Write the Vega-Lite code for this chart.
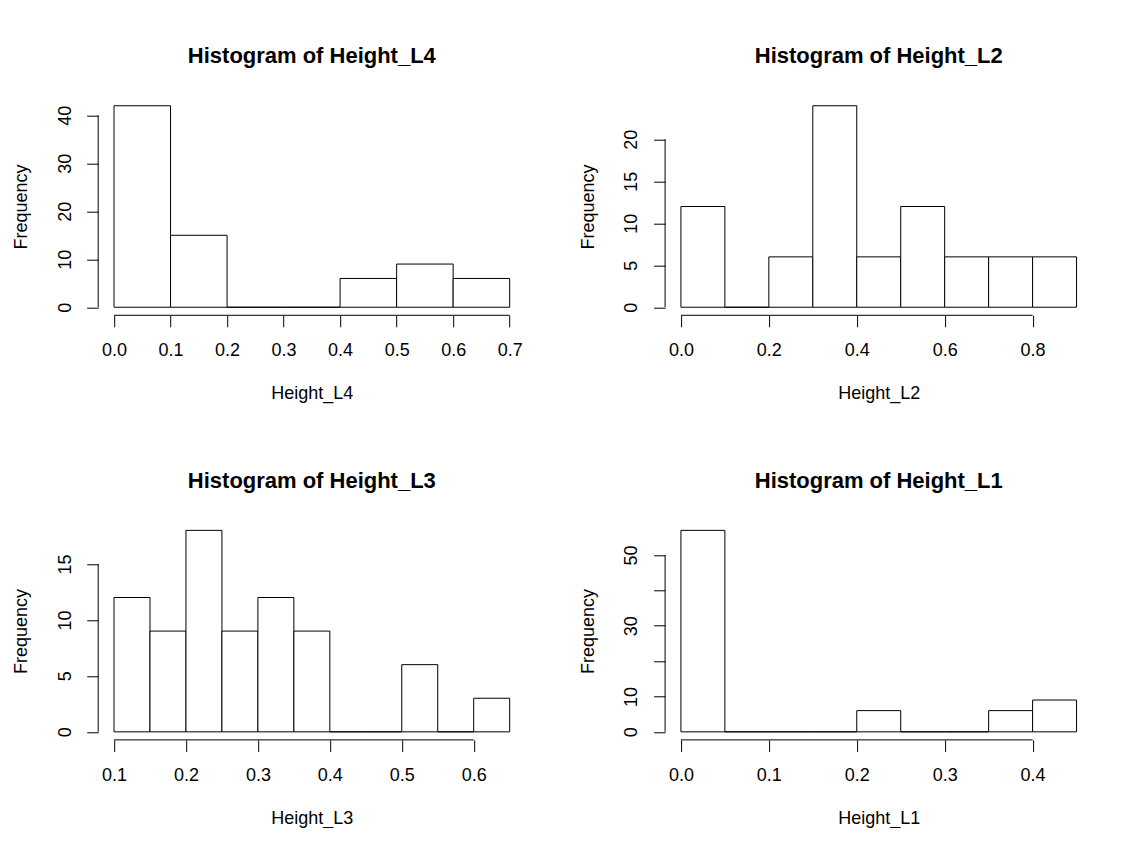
{
  "$schema": "https://vega.github.io/schema/vega-lite/v6.json",
  "background": "white",
  "padding": {"left": 11.2, "top": 44.7, "right": 0, "bottom": 0},
  "datasets": {
    "L4": [
      {"start": 0.0, "end": 0.1, "count": 42},
      {"start": 0.1, "end": 0.2, "count": 15},
      {"start": 0.2, "end": 0.3, "count": 0},
      {"start": 0.3, "end": 0.4, "count": 0},
      {"start": 0.4, "end": 0.5, "count": 6},
      {"start": 0.5, "end": 0.6, "count": 9},
      {"start": 0.6, "end": 0.7, "count": 6}
    ],
    "L2": [
      {"start": 0.0, "end": 0.1, "count": 12},
      {"start": 0.1, "end": 0.2, "count": 0},
      {"start": 0.2, "end": 0.3, "count": 6},
      {"start": 0.3, "end": 0.4, "count": 24},
      {"start": 0.4, "end": 0.5, "count": 6},
      {"start": 0.5, "end": 0.6, "count": 12},
      {"start": 0.6, "end": 0.7, "count": 6},
      {"start": 0.7, "end": 0.8, "count": 6},
      {"start": 0.8, "end": 0.9, "count": 6}
    ],
    "L3": [
      {"start": 0.10, "end": 0.15, "count": 12},
      {"start": 0.15, "end": 0.20, "count": 9},
      {"start": 0.20, "end": 0.25, "count": 18},
      {"start": 0.25, "end": 0.30, "count": 9},
      {"start": 0.30, "end": 0.35, "count": 12},
      {"start": 0.35, "end": 0.40, "count": 9},
      {"start": 0.40, "end": 0.45, "count": 0},
      {"start": 0.45, "end": 0.50, "count": 0},
      {"start": 0.50, "end": 0.55, "count": 6},
      {"start": 0.55, "end": 0.60, "count": 0},
      {"start": 0.60, "end": 0.65, "count": 3}
    ],
    "L1": [
      {"start": 0.00, "end": 0.05, "count": 57},
      {"start": 0.05, "end": 0.10, "count": 0},
      {"start": 0.10, "end": 0.15, "count": 0},
      {"start": 0.15, "end": 0.20, "count": 0},
      {"start": 0.20, "end": 0.25, "count": 6},
      {"start": 0.25, "end": 0.30, "count": 0},
      {"start": 0.30, "end": 0.35, "count": 0},
      {"start": 0.35, "end": 0.40, "count": 6},
      {"start": 0.40, "end": 0.45, "count": 9}
    ]
  },
  "columns": 2,
  "spacing": {"row": 66.6, "column": 51.9},
  "concat": [
    {
      "width": 427.3, "height": 217.6,
      "title": "Histogram of Height_L4",
      "data": {"name": "L4"},
      "layer": [
        {
          "mark": {"type": "rect", "fill": "white", "stroke": "black", "strokeWidth": 1},
          "encoding": {
            "x": {"field": "start", "type": "quantitative", "scale": {"domain": [-0.028, 0.728], "nice": false, "zero": false}, "axis": {"values": [0, 0.1, 0.2, 0.3, 0.4, 0.5, 0.6, 0.7], "format": ".1f", "title": "Height_L4"}},
            "x2": {"field": "end"},
            "y": {"field": "count", "type": "quantitative", "scale": {"domain": [-1.68, 43.68], "nice": false, "zero": false}, "axis": {"values": [0, 10, 20, 30, 40], "title": "Frequency"}},
            "y2": {"datum": 0}
          }
        },
        {
          "data": {"values": [{}]},
          "mark": {"type": "rule", "color": "black", "strokeWidth": 1},
          "encoding": {"x": {"datum": 0, "type": "quantitative"}, "x2": {"datum": 0.7}, "y": {"datum": -1.68, "type": "quantitative"}}
        },
        {
          "data": {"values": [{}]},
          "mark": {"type": "rule", "color": "black", "strokeWidth": 1},
          "encoding": {"x": {"datum": -0.028, "type": "quantitative"}, "y": {"datum": 0, "type": "quantitative"}, "y2": {"datum": 40}}
        }
      ]
    },
    {
      "width": 427.3, "height": 217.6,
      "title": "Histogram of Height_L2",
      "data": {"name": "L2"},
      "layer": [
        {
          "mark": {"type": "rect", "fill": "white", "stroke": "black", "strokeWidth": 1},
          "encoding": {
            "x": {"field": "start", "type": "quantitative", "scale": {"domain": [-0.036, 0.936], "nice": false, "zero": false}, "axis": {"values": [0, 0.2, 0.4, 0.6, 0.8], "format": ".1f", "title": "Height_L2"}},
            "x2": {"field": "end"},
            "y": {"field": "count", "type": "quantitative", "scale": {"domain": [-0.96, 24.96], "nice": false, "zero": false}, "axis": {"values": [0, 5, 10, 15, 20], "title": "Frequency"}},
            "y2": {"datum": 0}
          }
        },
        {
          "data": {"values": [{}]},
          "mark": {"type": "rule", "color": "black", "strokeWidth": 1},
          "encoding": {"x": {"datum": 0, "type": "quantitative"}, "x2": {"datum": 0.8}, "y": {"datum": -0.96, "type": "quantitative"}}
        },
        {
          "data": {"values": [{}]},
          "mark": {"type": "rule", "color": "black", "strokeWidth": 1},
          "encoding": {"x": {"datum": -0.036, "type": "quantitative"}, "y": {"datum": 0, "type": "quantitative"}, "y2": {"datum": 20}}
        }
      ]
    },
    {
      "width": 427.3, "height": 217.6,
      "title": "Histogram of Height_L3",
      "data": {"name": "L3"},
      "layer": [
        {
          "mark": {"type": "rect", "fill": "white", "stroke": "black", "strokeWidth": 1},
          "encoding": {
            "x": {"field": "start", "type": "quantitative", "scale": {"domain": [0.078, 0.672], "nice": false, "zero": false}, "axis": {"values": [0.1, 0.2, 0.3, 0.4, 0.5, 0.6], "format": ".1f", "title": "Height_L3"}},
            "x2": {"field": "end"},
            "y": {"field": "count", "type": "quantitative", "scale": {"domain": [-0.72, 18.72], "nice": false, "zero": false}, "axis": {"values": [0, 5, 10, 15], "title": "Frequency"}},
            "y2": {"datum": 0}
          }
        },
        {
          "data": {"values": [{}]},
          "mark": {"type": "rule", "color": "black", "strokeWidth": 1},
          "encoding": {"x": {"datum": 0.1, "type": "quantitative"}, "x2": {"datum": 0.6}, "y": {"datum": -0.72, "type": "quantitative"}}
        },
        {
          "data": {"values": [{}]},
          "mark": {"type": "rule", "color": "black", "strokeWidth": 1},
          "encoding": {"x": {"datum": 0.078, "type": "quantitative"}, "y": {"datum": 0, "type": "quantitative"}, "y2": {"datum": 15}}
        }
      ]
    },
    {
      "width": 427.3, "height": 217.6,
      "title": "Histogram of Height_L1",
      "data": {"name": "L1"},
      "layer": [
        {
          "mark": {"type": "rect", "fill": "white", "stroke": "black", "strokeWidth": 1},
          "encoding": {
            "x": {"field": "start", "type": "quantitative", "scale": {"domain": [-0.018, 0.468], "nice": false, "zero": false}, "axis": {"values": [0, 0.1, 0.2, 0.3, 0.4], "format": ".1f", "title": "Height_L1"}},
            "x2": {"field": "end"},
            "y": {"field": "count", "type": "quantitative", "scale": {"domain": [-2.28, 59.28], "nice": false, "zero": false}, "axis": {"values": [0, 10, 20, 30, 40, 50], "labelExpr": "datum.value == 20 || datum.value == 40 ? '' : datum.label", "title": "Frequency"}},
            "y2": {"datum": 0}
          }
        },
        {
          "data": {"values": [{}]},
          "mark": {"type": "rule", "color": "black", "strokeWidth": 1},
          "encoding": {"x": {"datum": 0, "type": "quantitative"}, "x2": {"datum": 0.4}, "y": {"datum": -2.28, "type": "quantitative"}}
        },
        {
          "data": {"values": [{}]},
          "mark": {"type": "rule", "color": "black", "strokeWidth": 1},
          "encoding": {"x": {"datum": -0.018, "type": "quantitative"}, "y": {"datum": 0, "type": "quantitative"}, "y2": {"datum": 50}}
        }
      ]
    }
  ],
  "config": {
    "font": "Liberation Sans",
    "view": {"stroke": null},
    "axis": {
      "domain": false,
      "grid": false,
      "ticks": true,
      "tickSize": 11.5,
      "tickColor": "black",
      "tickWidth": 1,
      "labelFont": "Liberation Sans",
      "labelFontSize": 18,
      "labelColor": "black",
      "labelOverlap": false,
      "labelFlush": false,
      "titleFont": "Liberation Sans",
      "titleFontSize": 18,
      "titleFontWeight": "normal",
      "titleColor": "black"
    },
    "axisX": {"labelBaseline": "alphabetic", "labelPadding": 29, "titleBaseline": "alphabetic", "titlePadding": 38.9},
    "axisY": {"labelAngle": 270, "labelAlign": "center", "labelBaseline": "alphabetic", "labelPadding": 16.7, "titleAngle": 270, "titleBaseline": "alphabetic", "titlePadding": 29.8},
    "title": {"font": "Liberation Sans", "fontSize": 22, "fontWeight": "bold", "color": "black", "baseline": "alphabetic", "anchor": "middle", "offset": 29.3}
  }
}
